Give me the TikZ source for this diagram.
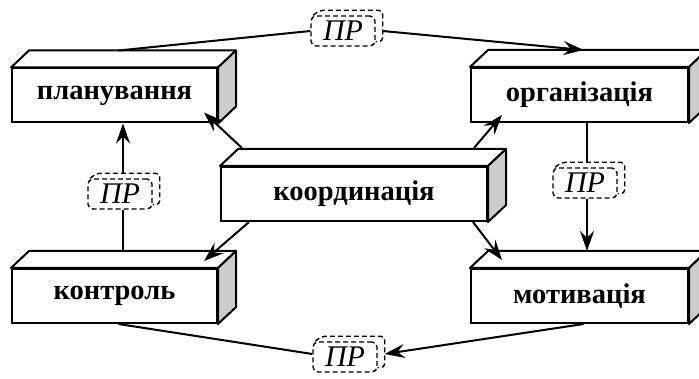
\documentclass[tikz,border=0pt]{standalone}
\usepackage{fontspec}
\setmainfont{Liberation Serif}
\usetikzlibrary{calc,arrows.meta}
\tikzset{
  blok/.style={draw,line width=2pt,fill=white,minimum height=54pt,inner sep=0pt,
    font=\fontsize{28.5}{30}\selectfont\bfseries},
  pr/.style={draw,dash pattern=on 5pt off 3pt,line width=1.4pt,rounded corners=5pt,
    minimum width=64pt,minimum height=30pt,inner sep=0pt,
    font=\fontsize{30}{31}\selectfont\itshape},
  zv/.style={line width=2pt},
  str/.style={line width=2pt,-{Stealth[length=20pt,width=14pt,inset=7pt]}}
}
\begin{document}
\begin{tikzpicture}[x=1pt,y=-1pt]
  \useasboundingbox (0,0) rectangle (699,379);

  % bloky
  \node[blok,minimum width=205pt] (plan)   at (114.5,95.5) {планування};
  \node[blok,minimum width=217pt] (org)    at (579.5,95)   {організація};
  \node[blok,minimum width=266pt] (koord)  at (354,194)    {координація};
  \node[blok,minimum width=205pt] (kontr)  at (114.5,296)  {контроль};
  \node[blok,minimum width=217pt] (motyv)  at (579.5,296)  {мотивація};

  \foreach \b in {plan,org,koord,kontr,motyv} {
    \draw[line width=2pt,fill=white,line join=round] (\b.north west) -- ++(18,-17)
      -- ($(\b.north east)+(18,-17)$) -- (\b.north east) -- cycle;
    \draw[line width=2pt,fill=black!20,line join=round] (\b.north east) -- ++(18,-17)
      -- ($(\b.south east)+(18,-17)$) -- (\b.south east) -- cycle;
  }

  % PR
  \node[pr] (prT) at (343,31)  {ПР};
  \node[pr] (prL) at (120,194) {ПР};
  \node[pr] (prR) at (585,183) {ПР};
  \node[pr] (prB) at (345,357) {ПР};

  \foreach \p in {prT,prL,prR,prB} {
    \draw[dash pattern=on 5pt off 3pt,line width=1.4pt,rounded corners=4pt]
      ($(\p.north west)+(3,0)$) -- ++(6,-5) -- ($(\p.north east)+(7,-5)$)
      -- ($(\p.south east)+(7,-5)$) -- ($(\p.south east)+(0,-5)$);
  }

  % zvjazky
  \coordinate (lx) at ($(prL.north)+(3,0)$);
  \coordinate (rx) at ($(prR.north)+(2,0)$);
  \draw[zv] ($(plan.north)+(4,-17)$) -- (prT.west);
  \draw[str] ($(prT.east)+(7,0)$) -- ($(org.north)+(4,-17)$);
  \draw[zv] ($(lx |- prL.south)$) -- ($(lx |- kontr.north)+(0,-17)$);
  \draw[str] ($(lx)+(0,-5)$) -- (lx |- plan.south);
  \draw[zv] ($(rx)+(0,-5)$) -- (rx |- org.south);
  \draw[str] (rx |- prR.south) -- ($(rx |- motyv.north)+(0,-17)$);
  \draw[zv] ($(kontr.south)+(4,0)$) -- ($(prB.west)+(0,-3)$);
  \draw[str] ($(motyv.south)+(4,0)$) -- ($(prB.east)+(7,-3)$);

  \draw[str] ($(koord.north west)+(22,-18)$) -- ($(plan.south east)+(-14,-11)$);
  \draw[str] ($(koord.north east)+(-14,-18)$) -- ($(org.south west)+(32,-8)$);
  \draw[str] ($(koord.south west)+(29,0)$) -- ($(kontr.north east)+(-14,-7)$);
  \draw[str] ($(koord.south east)+(-15,0)$) -- ($(motyv.north west)+(32,-8)$);
\end{tikzpicture}
\end{document}
